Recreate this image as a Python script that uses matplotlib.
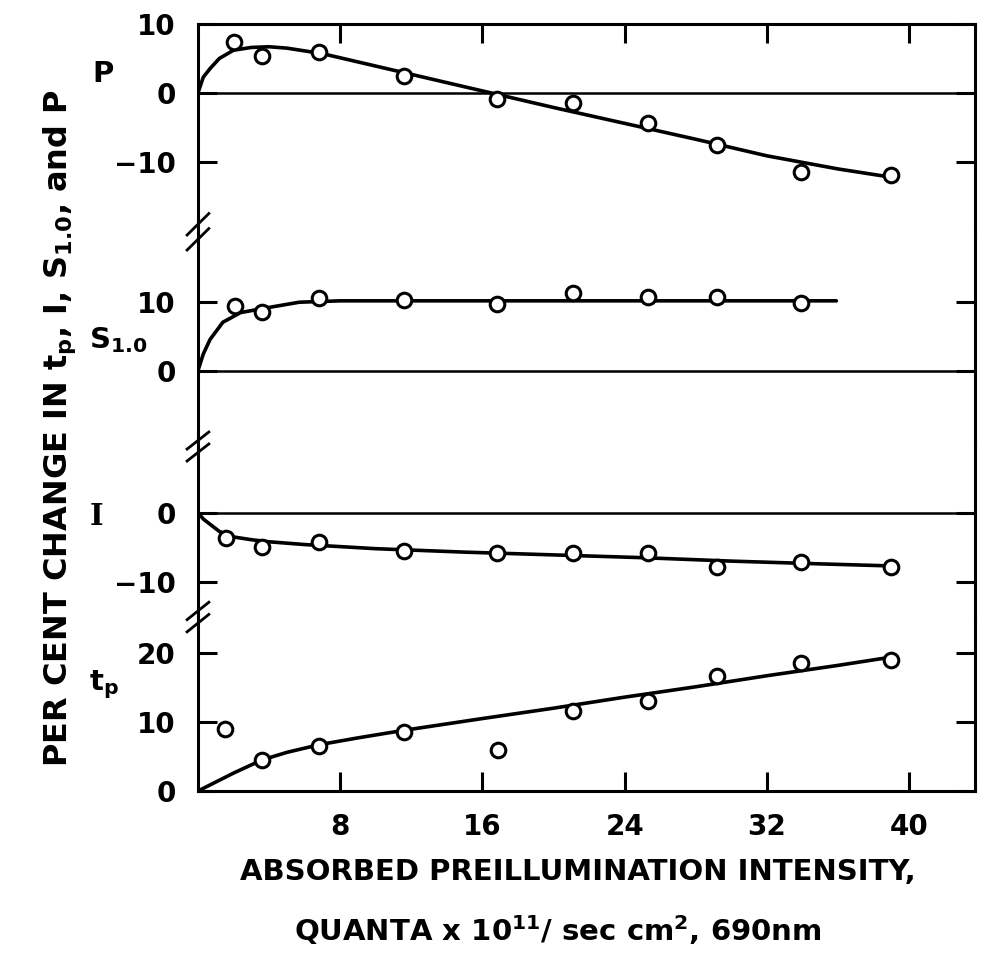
import numpy as np
import matplotlib
matplotlib.use("Agg")
import matplotlib.pyplot as plt

plt.rcParams['font.family'] = ['DejaVu Sans']
plt.rcParams['font.weight'] = 'bold'
plt.rcParams['mathtext.fontset'] = 'dejavusans'
plt.rcParams['mathtext.default'] = 'bf'

# measured points (x = absorbed intensity, y = per cent change)
p_x = [2.0, 3.6, 6.8, 11.6, 16.8, 21.1, 25.3, 29.2, 33.9, 39.0]
p_y = [7.4, 5.4, 5.9, 2.5, -0.9, -1.4, -4.3, -7.5, -11.4, -11.9]
s_x = [2.1, 3.6, 6.8, 11.6, 16.8, 21.1, 25.3, 29.2, 33.9]
s_y = [9.4, 8.5, 10.5, 10.2, 9.6, 11.2, 10.6, 10.6, 9.8]
i_x = [1.6, 3.6, 6.8, 11.6, 16.8, 21.1, 25.3, 29.2, 33.9, 39.0]
i_y = [-3.6, -4.9, -4.3, -5.5, -5.8, -5.8, -5.8, -7.8, -7.1, -7.8]
t_x = [1.5, 3.6, 6.8, 11.6, 16.9, 21.1, 25.3, 29.2, 33.9, 39.0]
t_y = [9.0, 4.5, 6.5, 8.6, 5.9, 11.6, 13.0, 16.7, 18.6, 19.0]

# hand-drawn fitted curves
p_cx = [0, 0.3, 0.7, 1.2, 2, 3, 4, 5, 7, 10, 13, 16, 20, 24, 28, 32, 36, 39]
p_cy = [0, 2.3, 3.6, 5.0, 6.2, 6.6, 6.7, 6.5, 5.7, 3.9, 2.1, 0.3, -2.1, -4.4, -6.7, -9.1, -11.0, -12.2]
s_cx = [0, 0.3, 0.68, 1.4, 2.4, 3.9, 5.7, 8, 15, 25, 35.9]
s_cy = [0, 2.4, 4.5, 7.0, 8.4, 9.1, 9.9, 10.1, 10.1, 10.1, 10.1]
i_cx = [0, 0.3, 0.7, 1.2, 2, 3, 4, 6, 10, 15, 20, 25, 30, 35, 39]
i_cy = [0, -0.9, -1.7, -2.7, -3.5, -3.9, -4.2, -4.6, -5.2, -5.7, -6.1, -6.5, -7.0, -7.4, -7.7]
t_cx = [0, 2, 3.6, 5, 6.8, 9, 11.6, 16, 20, 24, 28, 32, 36, 39]
t_cy = [0, 2.6, 4.5, 5.6, 6.7, 7.7, 8.8, 10.5, 12.0, 13.6, 15.1, 16.7, 18.2, 19.4]

panel_names = ['P', 'S$_{1.0}$', 'I', 't$_\\mathbf{p}$']
ylims = [(-20.1, 10), (-11.0, 20.1), (-15.1, 9.6), (0, 25.2)]
yticks = [[-10, 0, 10], [0, 10], [-10, 0], [0, 10, 20]]
xticks = [8, 16, 24, 32, 40]

fig = plt.figure(figsize=(9.81, 9.55), dpi=100)
gs = fig.add_gridspec(4, 1, height_ratios=[y[1] - y[0] for y in ylims], hspace=0,
                      left=0.2018, right=0.9939, top=0.9749, bottom=0.1717)
axes = [fig.add_subplot(gs[k]) for k in range(4)]

pts = [(p_x, p_y), (s_x, s_y), (i_x, i_y), (t_x, t_y)]
crv = [(p_cx, p_cy), (s_cx, s_cy), (i_cx, i_cy), (t_cx, t_cy)]

for k, ax in enumerate(axes):
    ax.set_xlim(0, 43.7)
    ax.set_ylim(*ylims[k])
    for sp in ax.spines.values():
        sp.set_linewidth(2.2)
    if k > 0:
        ax.spines['top'].set_visible(False)
    if k < 3:
        ax.spines['bottom'].set_visible(False)
        ax.axhline(0, color='black', lw=1.8)
    ax.plot(crv[k][0], crv[k][1], color='black', lw=2.6, solid_capstyle='round')
    ax.plot(pts[k][0], pts[k][1], 'o', ms=10.5, mfc='white', mec='black', mew=2.2)
    ax.set_yticks(yticks[k], [str(v).replace('-', '\u2212') for v in yticks[k]])
    ax.tick_params(axis='y', direction='in', length=14, width=2.2, left=True,
                   right=True, labelsize=20, pad=16)
    ax.set_xticks(xticks)
    ax.tick_params(axis='x', direction='in', length=14, width=2.2, labelsize=20,
                   top=(k == 0), bottom=(k == 3), labelbottom=(k == 3), pad=16)

# axis break marks on the left spine
for ax in axes[1:]:
    for dy in (-0.035, 0.035):
        ax.plot([-0.014, 0.014], [1 + dy - 0.05, 1 + dy + 0.05], color='black',
                lw=2.0, transform=ax.transAxes, clip_on=False)

# panel labels
lab_pos = [(103, 74), (118, 340), (96, 516), (104, 685)]
for k, (lx, ly) in enumerate(lab_pos):
    fam = 'DejaVu Serif' if k == 2 else 'DejaVu Sans'
    fig.text(lx / 981, 1 - ly / 955, panel_names[k], fontsize=21, ha='center',
             va='center', family=fam)

fig.text(60 / 981, 1 - 428 / 955, 'PER CENT CHANGE IN t$_\\mathbf{p}$, I, S$_{1.0}$, and P',
         rotation=90, ha='center', va='center', fontsize=23)
fig.text(578 / 981, 1 - 872 / 955, 'ABSORBED PREILLUMINATION INTENSITY,',
         ha='center', va='center', fontsize=21)
fig.text(558 / 981, 1 - 930 / 955, 'QUANTA x 10$^{11}$/ sec cm$^{2}$, 690nm',
         ha='center', va='center', fontsize=21)

fig.savefig('out.png', dpi=100)
